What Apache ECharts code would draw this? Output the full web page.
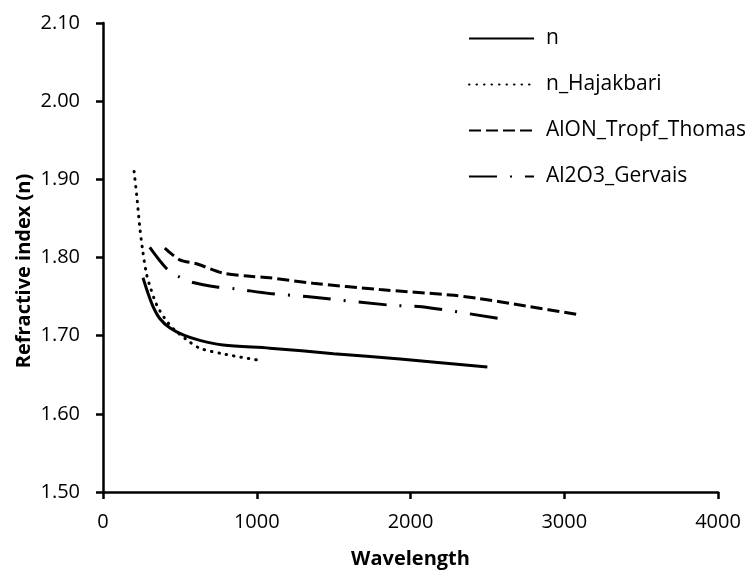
<!DOCTYPE html>
<html>
<head>
<meta charset="utf-8">
<script src="https://cdn.jsdelivr.net/npm/echarts@6/dist/echarts.min.js"></script>
<style>html,body{margin:0;padding:0;background:#fff}#c{width:752px;height:576px}</style>
</head>
<body>
<div id="c"></div>
<script>
const seriesNames = ["n", "n_Hajakbari", "AlON_Tropf_Thomas", "Al2O3_Gervais"];
const nData = [[260,1.774],[293,1.754],[326,1.737],[369,1.722],[434,1.710],[521,1.701],[630,1.694],[781,1.688],[1085,1.684],[1500,1.677],[1932,1.670],[2500,1.660]];
const hajakbariData = [[202,1.910],[219,1.880],[239,1.839],[258,1.809],[283,1.779],[311,1.760],[348,1.740],[402,1.722],[462,1.708],[543,1.695],[630,1.684],[800,1.676],[1000,1.669]];
const alonData = [[402,1.812],[499,1.797],[608,1.792],[781,1.780],[955,1.776],[1085,1.774],[1367,1.767],[1801,1.759],[2257,1.752],[2431,1.748],[2750,1.738],[3090,1.727]];
const gervaisData = [[304,1.813],[413,1.786],[488,1.776],[586,1.768],[749,1.762],[857,1.760],[1085,1.754],[1324,1.750],[1867,1.739],[2073,1.737],[2572,1.722]];
const xTicks = {min:0, max:4000, interval:1000};
const yTicks = {min:1.5, max:2.1, interval:0.1};
const xTitle = 'Wavelength';
const yTitle = 'Refractive index (n)';

const font = "'Open Sans', 'Liberation Sans', sans-serif";
const chart = echarts.init(document.getElementById('c'), null, {renderer:'canvas'});
const lineTypes = ['solid', [0.5,7], [12,5], [28,13,2,13]];
const lineCaps = ['butt', 'round', 'butt', 'butt'];
const datasets = [nData, hajakbariData, alonData, gervaisData];
chart.setOption({
  animation:false,
  backgroundColor:'#fff',
  grid:{left:103, right:34, top:23, bottom:84},
  legend:{
    orient:'vertical', left:463, top:23, itemGap:25, itemWidth:65, itemHeight:14,
    itemStyle:{opacity:0},
    textStyle:{fontFamily:font, fontSize:21, color:'#000', padding:[0,0,0,7]},
    data:seriesNames.map(n=>({name:n}))
  },
  graphic:[{
    type:'text', x:24, y:271, rotation:Math.PI/2,
    style:{text:yTitle, fill:'#000', font:"bold 20px 'Open Sans', sans-serif", align:'center', verticalAlign:'middle'}
  }],
  xAxis:{type:'value', min:xTicks.min, max:xTicks.max, interval:xTicks.interval,
    name:xTitle, nameLocation:'middle', nameGap:57,
    nameTextStyle:{fontFamily:font, fontSize:20, fontWeight:'bold', color:'#000'},
    axisLine:{lineStyle:{color:'#000', width:2.5}},
    axisTick:{show:true, length:7, lineStyle:{color:'#000', width:2.5}},
    axisLabel:{fontFamily:font, fontSize:20, color:'#000', margin:20, formatter:v=>String(v)},
    splitLine:{show:false}},
  yAxis:{type:'value', min:yTicks.min, max:yTicks.max, interval:yTicks.interval,
    axisLine:{show:true, lineStyle:{color:'#000', width:2.5}},
    axisTick:{show:true, length:7, lineStyle:{color:'#000', width:2.5}},
    axisLabel:{fontFamily:font, fontSize:20, color:'#000', margin:23, formatter:v=>v.toFixed(2)},
    splitLine:{show:false}},
  series: seriesNames.map((name,i)=>({
    name, type:'line', data:datasets[i], showSymbol:false, symbol:'none', smooth:0.3,
    lineStyle:{color:'#000', width:3, type:lineTypes[i], cap:lineCaps[i]},
    itemStyle:{color:'#000'}
  }))
});
</script>
</body>
</html>
